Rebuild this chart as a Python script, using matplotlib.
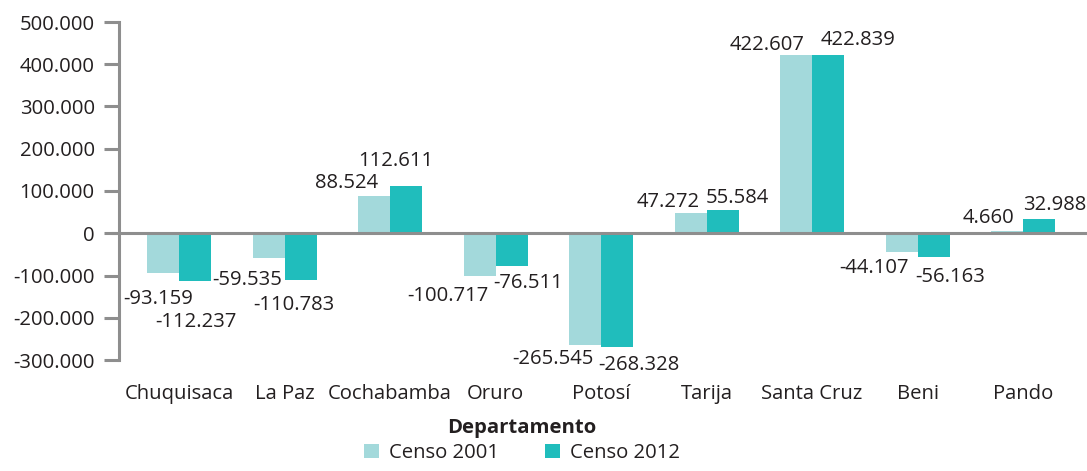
import matplotlib
matplotlib.use("Agg")
import matplotlib.pyplot as plt
from matplotlib.patches import Patch
from matplotlib.ticker import FuncFormatter
import numpy as np

departamentos = ["Chuquisaca", "La Paz", "Cochabamba", "Oruro", "Potosí",
                 "Tarija", "Santa Cruz", "Beni", "Pando"]
censo_2001 = [-93159, -59535, 88524, -100717, -265545, 47272, 422607, -44107, 4660]
censo_2012 = [-112237, -110783, 112611, -76511, -268328, 55584, 422839, -56163, 32988]
series_names = ["Censo 2001", "Censo 2012"]
y_ticks = [-300000, -200000, -100000, 0, 100000, 200000, 300000, 400000, 500000]

# label offsets in pixels (dx, dy) relative to bar end - style only
off_2001 = [(-5, -24), (-21, -20), (-27, 15), (-32, -18), (-32, -12),
            (-22, 13), (-29, 12), (-28, -14), (-19, 15)]
off_2012 = [(1, -39), (-7, -23), (-10, 27), (17, -15), (22, -16),
            (15, 14), (30, 17), (17, -18), (16, 16)]

C1 = "#a3d9db"
C2 = "#20bdbc"
GREY = "#8e8e8e"
TXT = "#231f20"
FONT = "Open Sans"
FS = 14.6

plt.rcParams["font.family"] = [FONT, "DejaVu Sans"]
plt.rcParams["text.color"] = TXT

fig = plt.figure(figsize=(10.87, 4.71), dpi=100)
ax = fig.add_axes([119 / 1087, 1 - 360 / 471, 968 / 1087, 338 / 471])

x = np.arange(len(departamentos))
w = 0.303
b1 = ax.bar(x - w / 2, censo_2001, width=w, color=C1, zorder=2)
b2 = ax.bar(x + w / 2, censo_2012, width=w, color=C2, zorder=2)

ax.set_xlim(-0.569, 8.606)
ax.set_ylim(-300000, 500000)
ax.set_yticks(y_ticks)
ax.yaxis.set_major_formatter(FuncFormatter(lambda v, p: f"{int(v):,}".replace(",", ".")))
ax.set_xticks(x)
ax.set_xticklabels(departamentos)

for s in ["top", "right", "bottom"]:
    ax.spines[s].set_visible(False)
ax.spines["left"].set_color(GREY)
ax.spines["left"].set_linewidth(2.2)
ax.tick_params(axis="y", length=11, width=2.2, color=GREY, pad=6.5,
               labelsize=FS, labelcolor=TXT)
ax.tick_params(axis="x", length=0, pad=17.5, labelsize=FS, labelcolor=TXT)
ax.axhline(0, xmin=-0.006, xmax=1, color=GREY, linewidth=2.2, clip_on=False, zorder=3)

def fmt(v):
    return f"{v:,}".replace(",", ".")

for bars, vals, offs in [(b1, censo_2001, off_2001), (b2, censo_2012, off_2012)]:
    for bar, v, (dx, dy) in zip(bars, vals, offs):
        ax.annotate(fmt(v), xy=(bar.get_x() + bar.get_width() / 2, v),
                    xytext=(dx, dy - 7), textcoords="offset pixels",
                    ha="center", va="baseline", fontsize=FS, color=TXT,
                    annotation_clip=False)

fig.text(522 / 1087, 1 - 428 / 471, "Departamento", ha="center", va="center",
         fontsize=FS, fontweight="bold", color=TXT)

handles = [Patch(facecolor=C1, edgecolor="none"), Patch(facecolor=C2, edgecolor="none")]
fig.legend(handles, series_names, loc="center", bbox_to_anchor=(522 / 1087, 1 - 453 / 471),
           ncol=2, frameon=False, fontsize=FS, handlelength=0.74, handleheight=0.74,
           handletextpad=0.5, columnspacing=2.3, borderpad=0, borderaxespad=0)

fig.savefig("out.png", dpi=100)
